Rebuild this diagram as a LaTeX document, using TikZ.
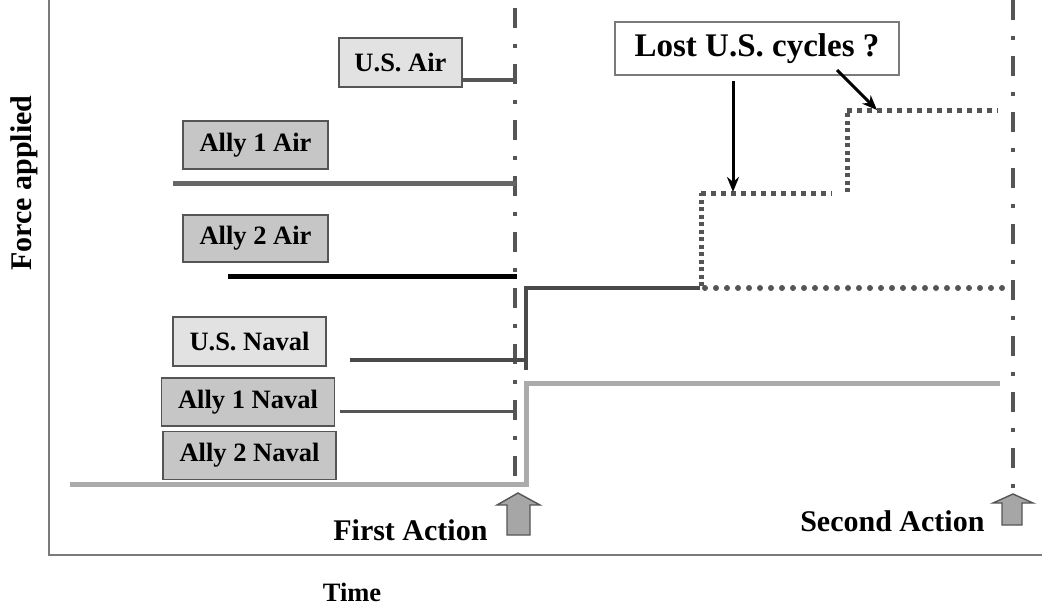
\documentclass[tikz,border=0pt]{standalone}
\usepackage{fontspec}
\setmainfont{Liberation Serif}
\usetikzlibrary{arrows.meta}
\definecolor{boxlight}{HTML}{E2E2E2}
\definecolor{boxmid}{HTML}{C6C6C6}
\definecolor{edge}{HTML}{555555}
\definecolor{axisgray}{HTML}{7A7A7A}
\definecolor{navygray}{HTML}{4A4A4A}
\definecolor{palegray}{HTML}{ABABAB}
\definecolor{arrowfill}{HTML}{A6A6A6}
\begin{document}
\begin{tikzpicture}[x=1pt,y=-1pt,
  lbl/.style={font=\fontsize{26.5}{30}\selectfont\bfseries},
  bigtxt/.style={font=\fontsize{30}{34}\selectfont\bfseries},
  forcebox/.style={lbl, draw=edge, line width=1.6pt, inner sep=0pt},
  lightbox/.style={forcebox, fill=boxlight},
  midbox/.style={forcebox, fill=boxmid},
  phase/.style={draw=edge, line width=3.5pt, dash pattern=on 20pt off 16pt on 4pt off 16pt},
  lost/.style={draw=edge, line width=5pt, dash pattern=on 4.5pt off 5.5pt},
  lostv/.style={draw=edge, line width=5pt, dash pattern=on 4pt off 3.5pt},
  lostround/.style={draw=edge, line width=6pt, line cap=round, dash pattern=on 0pt off 11pt},
  callout/.style={draw=black, line width=3pt, -{Stealth[length=15pt,width=12pt]}},
  bigarrow/.style={draw=edge, line width=1.4pt, fill=arrowfill, line join=miter}
]
\useasboundingbox (0,0) rectangle (1050,605);

% axes
\coordinate (top) at (49,0);
\coordinate (origin) at (49,555);
\coordinate (xend) at (1042,555);
\draw[axisgray, line width=2pt] (top) -- (origin) -- (xend);
\node[bigtxt, rotate=90] (force) at (24,183) {Force applied};
\node[lbl] (time) at (352,592) {Time};

% action markers
\coordinate (a1top) at (515,8);
\coordinate (a1bot) at (515,488);
\coordinate (a2top) at (1013,0);
\coordinate (a2bot) at (1013,497);
\draw[phase] (a1top) -- (a1bot);
\draw[phase] (a2top) -- (a2bot);

% force labels
\node[lightbox, minimum width=123pt, minimum height=49pt] (usair) at (400.5,62.5) {U.S. Air};
\node[midbox, minimum width=145pt, minimum height=48pt] (a1air) at (255.5,145) {Ally 1 Air};
\node[midbox, minimum width=145pt, minimum height=47pt] (a2air) at (255.5,238.5) {Ally 2 Air};
\node[lightbox, minimum width=153pt, minimum height=49pt] (usnav) at (249.5,341.5) {U.S. Naval};
\node[midbox, minimum width=173pt, minimum height=48pt] (a1nav) at (248,402) {Ally 1 Naval};
\node[midbox, minimum width=173pt, minimum height=48pt] (a2nav) at (249.5,455.5) {Ally 2 Naval};

% force levels
\coordinate (usairE) at (516,80);
\draw[edge, line width=4pt] (usair.east |- usairE) -- (usairE);

\coordinate (a1airS) at (173,183);
\coordinate (a1airE) at (516,183);
\draw[color=edge!90, line width=5pt] (a1airS) -- (a1airE);

\coordinate (a2airS) at (228,276);
\coordinate (a2airE) at (517,276);
\draw[black, line width=5pt] (a2airS) -- (a2airE);

\coordinate (usnavS) at (350,360);
\coordinate (usnavE) at (527,360);
\coordinate (usnavB) at (526,370);
\coordinate (usnavU) at (526,288);
\coordinate (usnavR) at (700,288);
\draw[navygray, line width=3.5pt] (usnavS) -- (usnavE);
\draw[navygray, line width=3.5pt, line join=miter] (usnavB) -- (usnavU) -- (usnavR);

\coordinate (a1navS) at (340,411);
\coordinate (a1navE) at (516,411);
\draw[edge, line width=3pt] (a1navS) -- (a1navE);

\coordinate (a2navS) at (70,484);
\coordinate (a2navK) at (526,484);
\coordinate (a2navU) at (526,383);
\coordinate (a2navE) at (1000,383);
\draw[palegray, line width=5pt, line join=miter] (a2navS) -- (a2navK) -- (a2navU) -- (a2navE);

% lost cycles
\coordinate (l0) at (705,288);
\coordinate (l0e) at (1003,288);
\coordinate (l1) at (701,286);
\coordinate (l2) at (701,193);
\coordinate (l3) at (832,193);
\coordinate (l4) at (847,192);
\coordinate (l5) at (847,110);
\coordinate (l6) at (998,110);
\draw[lostround] (l0) -- (l0e);
\draw[lostv] (l1) -- (l2);
\draw[lost] (l2) -- (l3);
\draw[lostv] (l4) -- (l5);
\draw[lost] (l5) -- (l6);

\node[lbl, font=\fontsize{33}{38}\selectfont\bfseries, draw=axisgray, line width=1.8pt, fill=white,
      minimum width=284pt, minimum height=53pt, inner sep=0pt] (lostbox) at (757,48.5) {Lost U.S. cycles ?};
\coordinate (t1) at (733,192);
\coordinate (t2) at (877,110);
\draw[callout] (lostbox.south -| t1) ++(0,5) -- (t1);
\draw[callout] (837,70) -- (t2);

% action arrows
\node[bigtxt, anchor=east] (first) at (491,530) {First Action};
\node[bigtxt, anchor=east] (second) at (988,521) {Second Action};
\draw[bigarrow] (518,493) -- (540,505) -- (530,505) -- (530,535) -- (507,535) -- (507,505) -- (497,505) -- cycle;
\draw[bigarrow] (1013,494) -- (1033,503) -- (1022,503) -- (1022,525) -- (1002,525) -- (1002,503) -- (993,503) -- cycle;
\end{tikzpicture}
\end{document}
